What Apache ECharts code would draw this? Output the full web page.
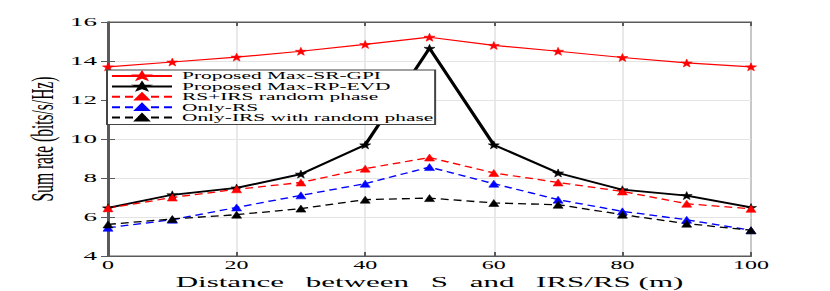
<!DOCTYPE html>
<html>
<head>
<meta charset="utf-8">
<script src="https://cdn.jsdelivr.net/npm/echarts@6/dist/echarts.min.js"></script>
<style>
html,body{margin:0;padding:0;background:#fff;overflow:hidden;}
#wrap{width:830px;height:291px;overflow:hidden;}
#c{width:415px;height:291px;transform:scaleX(2);transform-origin:0 0;}
</style>
</head>
<body>
<div id="wrap"><div id="c"></div></div>
<script>
const distances = [0, 10, 20, 30, 40, 50, 60, 70, 80, 90, 100];
const maxSRGPI   = [13.70, 13.95, 14.20, 14.50, 14.85, 15.22, 14.80, 14.50, 14.18, 13.90, 13.70];
const maxRPEVD   = [6.47, 7.14, 7.49, 8.20, 9.70, 14.65, 9.70, 8.26, 7.40, 7.10, 6.49];
const rsIrsRand  = [6.45, 7.00, 7.42, 7.77, 8.48, 9.05, 8.26, 7.77, 7.31, 6.68, 6.42];
const onlyRS     = [5.45, 5.86, 6.49, 7.11, 7.71, 8.56, 7.71, 6.89, 6.29, 5.86, 5.32];
const onlyIRS    = [5.62, 5.90, 6.12, 6.43, 6.89, 6.97, 6.72, 6.63, 6.12, 5.66, 5.32];
const seriesNames = ['Proposed Max-SR-GPI', 'Proposed Max-RP-EVD', 'RS+IRS random phase', 'Only-RS', 'Only-IRS with random phase'];
const xTicks = [0, 20, 40, 60, 80, 100];
const yTicks = [4, 6, 8, 10, 12, 14, 16];
const xName = 'Distance\u2002\u2009between\u2002\u2009S\u2002\u2009and\u2002\u2009IRS/RS (m)';
const yName = 'Sum rate (bits/s/Hz)';

const star = 'path://M0,-10L2.35,-3.24L9.51,-3.09L3.8,1.24L5.88,8.09L0,4L-5.88,8.09L-3.8,1.24L-9.51,-3.09L-2.35,-3.24Z';
const pair = (ys) => distances.map((x, i) => [x, ys[i]]);
const font = 'Liberation Serif';
const axisColor = '#5a5a5a';

const mk = (name, ys, color, solid, width, symbol, size) => ({
  name, type: 'line', data: pair(ys), symbol, symbolSize: size, showSymbol: true,
  lineStyle: { color, width, type: solid ? 'solid' : [4, 2.5] },
  itemStyle: { color, borderColor: color, borderWidth: 0.4 },
  emphasis: { disabled: true }, animation: false
});

const chart = echarts.init(document.getElementById('c'), null, { renderer: 'svg' });
chart.setOption({
  animation: false,
  grid: { left: 54, right: 39.5, top: 22, bottom: 35, outerBoundsMode: 'none', containLabel: false,
    show: true, borderColor: axisColor, borderWidth: 1, backgroundColor: '#fff' },
  legend: {
    left: 53.5, top: 70, orient: 'vertical',
    itemWidth: 30, itemHeight: 7, itemGap: -0.6,
    padding: [0.5, 1, 1.5, 1.5],
    backgroundColor: '#fff', borderColor: '#444', borderWidth: 1,
    data: seriesNames,
    textStyle: { fontFamily: font, fontSize: 10.7, color: '#000' }
  },
  xAxis: [{
    type: 'value', min: 0, max: 100, interval: 20,
    name: xName, nameLocation: 'middle', nameGap: 17.5, nameMoveOverlap: false,
    nameTextStyle: { fontFamily: font, fontSize: 15.5, color: '#000' },
    axisLine: { show: true, lineStyle: { color: axisColor } },
    axisTick: { show: true, inside: true, length: 4, lineStyle: { color: axisColor } },
    axisLabel: { fontFamily: font, fontSize: 12, color: '#000', margin: 3,
      formatter: v => xTicks.includes(v) ? String(v) : '' },
    splitLine: { show: true, lineStyle: { color: '#e4e4e4', width: 0.8 } }
  }, {
    type: 'value', min: 0, max: 100, interval: 20, position: 'top',
    axisLine: { show: true, lineStyle: { color: axisColor } },
    axisTick: { show: true, inside: true, length: 4, lineStyle: { color: axisColor } },
    axisLabel: { show: false }, splitLine: { show: false }
  }],
  yAxis: [{
    type: 'value', min: 4, max: 16, interval: 2,
    name: yName, nameLocation: 'middle', nameGap: 25, nameMoveOverlap: false,
    nameTextStyle: { fontFamily: font, fontSize: 15.5, color: '#000' },
    axisLine: { show: true, lineStyle: { color: axisColor } },
    axisTick: { show: true, inside: true, length: 3.5, lineStyle: { color: axisColor } },
    axisLabel: { fontFamily: font, fontSize: 13.5, color: '#000', margin: 5.5,
      formatter: v => yTicks.includes(v) ? String(v) : '' },
    splitLine: { show: true, lineStyle: { color: '#e4e4e4' } }
  }, {
    type: 'value', min: 4, max: 16, interval: 2, position: 'right',
    axisLine: { show: true, lineStyle: { color: axisColor } },
    axisTick: { show: true, inside: true, length: 3.5, lineStyle: { color: axisColor } },
    axisLabel: { show: false }, splitLine: { show: false }
  }],
  series: [
    mk(seriesNames[0], maxSRGPI, '#ff0000', true, 1.2, star, [5.5, 8]),
    mk(seriesNames[1], maxRPEVD, '#000000', true, 1.8, star, [5.5, 8]),
    mk(seriesNames[2], rsIrsRand, '#ff0000', false, 1.3, 'triangle', [5, 7]),
    mk(seriesNames[3], onlyRS, '#0000ff', false, 1.3, 'triangle', [5, 7]),
    mk(seriesNames[4], onlyIRS, '#000000', false, 1.3, 'triangle', [5, 7])
  ]
});
</script>
</body>
</html>
